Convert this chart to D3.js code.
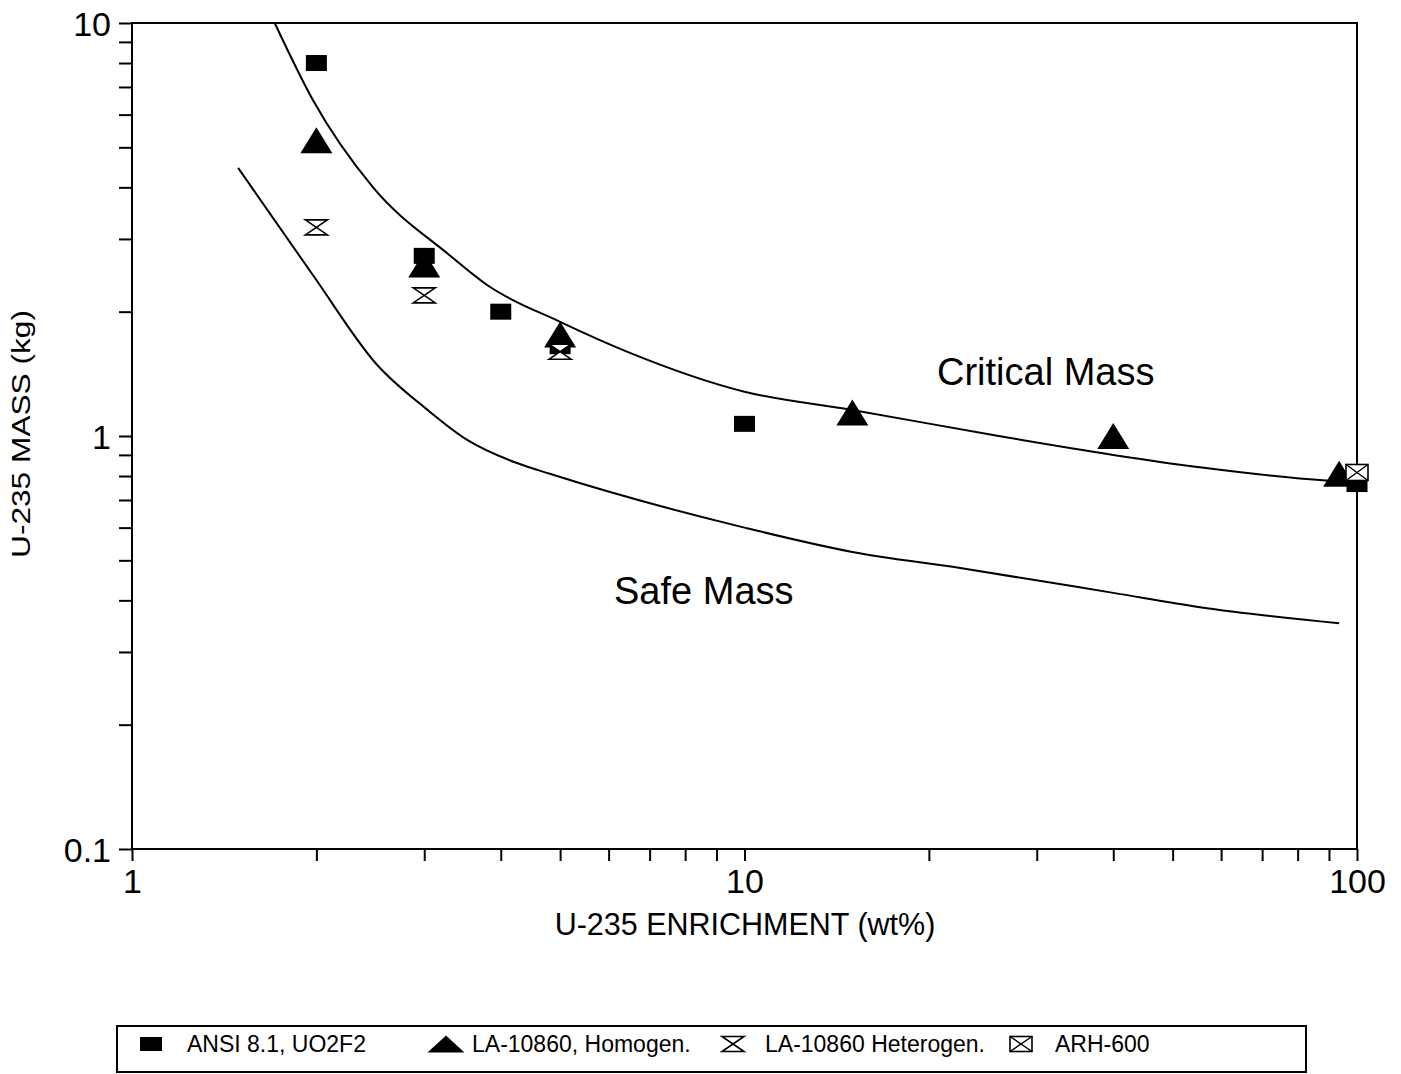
<!DOCTYPE html>
<html>
<head>
<meta charset="utf-8">
<script src="https://cdn.jsdelivr.net/npm/d3@7"></script>
<style>
    body { margin: 0; background: #fff; }
    svg { display: block; font-family: "Liberation Sans", Arial, sans-serif; }
    .axis path { display: none; }
    .axis line { stroke: #000; stroke-width: 2; }
    .axis text { fill: #000; font-size: 34px; }
</style>
</head>
<body>
<div id="chart"></div>
<script>
"use strict";

// critical / safe mass curves (enrichment wt%, mass kg)
var criticalX = [1.71, 1.975, 2.475, 3.3, 3.8, 5.0, 6.5, 10, 15, 26, 40, 55.4, 89, 95];
var criticalY = [10, 6.5, 4.0, 2.74, 2.32, 1.89, 1.59, 1.28, 1.156, 1.0, 0.90, 0.84, 0.78, 0.775];
var safeX = [1.49, 1.975, 2.51, 3.03, 3.52, 4.25, 4.81, 10, 15, 22.5, 40, 55.4, 93.5];
var safeY = [4.46, 2.45, 1.49, 1.16, 0.98, 0.86, 0.81, 0.60, 0.524, 0.479, 0.417, 0.385, 0.352];

// experimental points
var ansiX = [2, 3, 4, 5, 10, 100];
var ansiY = [8.0, 2.73, 2.0, 1.65, 1.07, 0.765];
var homogX = [2, 3, 5, 15, 40, 93.5];
var homogY = [5.2, 2.6, 1.76, 1.14, 1.0, 0.81];
var heteroX = [2, 3, 5];
var heteroY = [3.2, 2.19, 1.6];
var arhX = [100];
var arhY = [0.816];

var xTicks = [1, 2, 3, 4, 5, 6, 7, 8, 9, 10, 20, 30, 40, 50, 60, 70, 80, 90, 100];
var yTicks = [0.1, 0.2, 0.3, 0.4, 0.5, 0.6, 0.7, 0.8, 0.9, 1, 2, 3, 4, 5, 6, 7, 8, 9, 10];
var majorTicks = [0.1, 1, 10, 100];

var legendLabels = ['ANSI 8.1, UO2F2', 'LA-10860, Homogen.', 'LA-10860 Heterogen.', 'ARH-600'];

function zip(xs, ys) {
    return xs.map(function (v, i) { return [v, ys[i]]; });
}

var width = 1401, height = 1074;
var plot = {left: 132, right: 1357, top: 23, bottom: 849};

var svg = d3.select('#chart').append('svg')
    .attr('width', width)
    .attr('height', height);

var x = d3.scaleLog().domain([1, 100]).range([plot.left, plot.right]);
var y = d3.scaleLog().domain([0.1, 10]).range([plot.bottom, plot.top]);

function fmt(d) {
    return majorTicks.indexOf(d) >= 0 ? String(d) : '';
}

svg.append('g')
    .attr('class', 'axis')
    .attr('transform', 'translate(0,' + plot.bottom + ')')
    .call(d3.axisBottom(x).tickValues(xTicks).tickFormat(fmt).tickSize(12).tickSizeOuter(0).tickPadding(8));

svg.append('g')
    .attr('class', 'axis')
    .attr('transform', 'translate(' + plot.left + ',0)')
    .call(d3.axisLeft(y).tickValues(yTicks).tickFormat(fmt).tickSize(13).tickSizeOuter(0).tickPadding(8))
    .selectAll('text').attr('dy', '0.36em');

// frame
svg.append('rect')
    .attr('x', plot.left)
    .attr('y', plot.top)
    .attr('width', plot.right - plot.left)
    .attr('height', plot.bottom - plot.top)
    .attr('fill', 'none')
    .attr('stroke', '#000')
    .attr('stroke-width', 2);

var line = d3.line()
    .x(function (d) { return x(d[0]); })
    .y(function (d) { return y(d[1]); })
    .curve(d3.curveMonotoneX);

svg.append('path')
    .datum(zip(criticalX, criticalY))
    .attr('d', line)
    .attr('fill', 'none')
    .attr('stroke', '#000')
    .attr('stroke-width', 2);

svg.append('path')
    .datum(zip(safeX, safeY))
    .attr('d', line)
    .attr('fill', 'none')
    .attr('stroke', '#000')
    .attr('stroke-width', 2);

// marker shapes
function square(g, w, h) {
    g.append('rect').attr('x', -w / 2).attr('y', -h / 2).attr('width', w).attr('height', h).attr('fill', '#000');
}
function triangle(g, w, h) {
    g.append('path').attr('d', 'M0,' + (-h / 2) + 'L' + (w / 2) + ',' + (h / 2) + 'L' + (-w / 2) + ',' + (h / 2) + 'Z')
        .attr('fill', '#000');
}
function hourglass(g, w, h) {
    g.append('path')
        .attr('d', 'M' + (-w / 2) + ',' + (-h / 2) + 'L' + (w / 2) + ',' + (-h / 2) + 'L' + (-w / 2) + ',' + (h / 2) +
            'L' + (w / 2) + ',' + (h / 2) + 'Z')
        .attr('fill', '#fff').attr('stroke', '#000').attr('stroke-width', 1.6);
}
function boxX(g, w, h) {
    g.append('rect').attr('x', -w / 2).attr('y', -h / 2).attr('width', w).attr('height', h)
        .attr('fill', '#fff').attr('stroke', '#000').attr('stroke-width', 1.6);
    g.append('path')
        .attr('d', 'M' + (-w / 2) + ',' + (-h / 2) + 'L' + (w / 2) + ',' + (h / 2) + 'M' + (w / 2) + ',' + (-h / 2) + 'L' + (-w / 2) + ',' + (h / 2))
        .attr('stroke', '#000').attr('stroke-width', 1.4);
}

function drawPoints(xs, ys, shape, w, h) {
    svg.append('g').selectAll('g')
        .data(zip(xs, ys))
        .enter().append('g')
            .attr('transform', function (d) {
                return 'translate(' + x(d[0]) + ',' + y(d[1]) + ')';
            })
            .each(function () { shape(d3.select(this), w, h); });
}

drawPoints(ansiX, ansiY, square, 21, 16);
drawPoints(homogX, homogY, triangle, 32, 26);
drawPoints(heteroX, heteroY, hourglass, 22, 15);
drawPoints(arhX, arhY, boxX, 22, 16);

// curve labels
svg.append('text').attr('x', 937).attr('y', 385)
    .attr('font-size', 38).text('Critical Mass');
svg.append('text').attr('x', 614).attr('y', 604)
    .attr('font-size', 38).text('Safe Mass');

// axis titles
svg.append('text')
    .attr('x', 745).attr('y', 935)
    .attr('text-anchor', 'middle')
    .attr('font-size', 30.5)
    .text('U-235 ENRICHMENT (wt%)');

svg.append('text')
    .attr('transform', 'translate(30,434) rotate(-90)')
    .attr('text-anchor', 'middle')
    .attr('font-size', 25)
    .attr('textLength', 248)
    .attr('lengthAdjust', 'spacingAndGlyphs')
    .text('U-235 MASS (kg)');

// legend
svg.append('rect')
    .attr('x', 117).attr('y', 1026)
    .attr('width', 1189).attr('height', 46)
    .attr('fill', 'none').attr('stroke', '#000').attr('stroke-width', 2);

var legendItems = [
    {shape: square, w: 22, h: 14, cx: 151, tx: 187},
    {shape: triangle, w: 37, h: 17, cx: 446, tx: 472},
    {shape: hourglass, w: 22, h: 15, cx: 733, tx: 765},
    {shape: boxX, w: 22, h: 15, cx: 1021, tx: 1055}
];

legendItems.forEach(function (item, i) {
    var g = svg.append('g').attr('transform', 'translate(' + item.cx + ',1044)');
    item.shape(g, item.w, item.h);
    svg.append('text')
        .attr('x', item.tx).attr('y', 1052)
        .attr('font-size', 23)
        .text(legendLabels[i]);
});
</script>
</body>
</html>
